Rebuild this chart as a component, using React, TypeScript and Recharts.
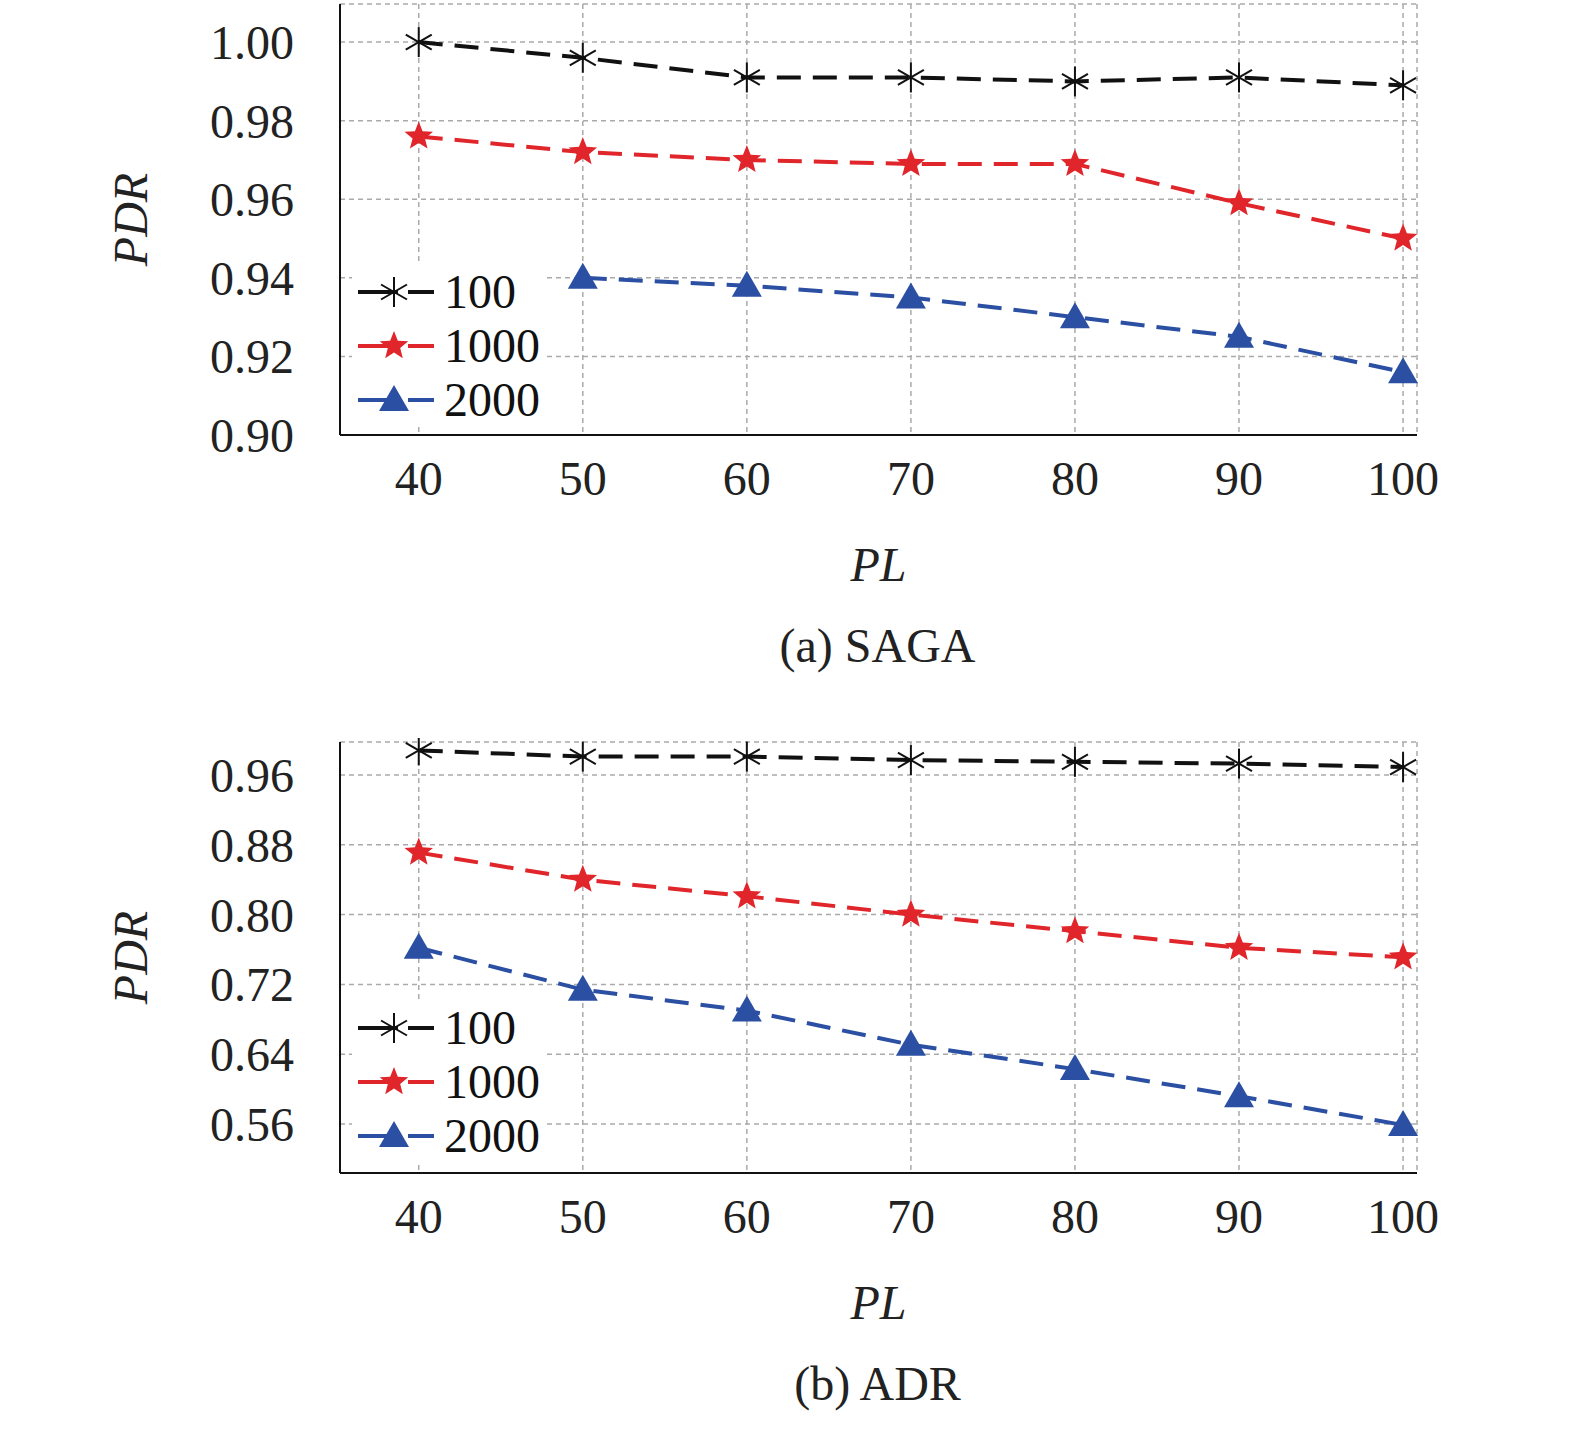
import { CartesianGrid, Label, Line, LineChart, XAxis, YAxis } from 'recharts';

const plValues = [40, 50, 60, 70, 80, 90, 100];
const seriesNames = ['100', '1000', '2000'];

const sagaPdr100 = [1.0, 0.996, 0.991, 0.991, 0.99, 0.991, 0.989];
const sagaPdr1000 = [0.976, 0.972, 0.97, 0.969, 0.969, 0.959, 0.95];
const sagaPdr2000 = [null, 0.94, 0.938, 0.935, 0.93, 0.925, 0.916];
const sagaTicks = [0.9, 0.92, 0.94, 0.96, 0.98, 1.0];

const adrPdr100 = [0.988, 0.981, 0.981, 0.977, 0.975, 0.973, 0.969];
const adrPdr1000 = [0.871, 0.84, 0.821, 0.8, 0.781, 0.762, 0.751];
const adrPdr2000 = [0.762, 0.714, 0.69, 0.651, 0.623, 0.592, 0.559];
const adrTicks = [0.56, 0.64, 0.72, 0.8, 0.88, 0.96];

const colors = ['#111111', '#e0262b', '#2b4fa2'];
const FONT = '"Liberation Serif", "Times New Roman", serif';

function Marker({ kind, cx, cy, color }: { kind: number; cx: number; cy: number; color: string }) {
  if (cx == null || cy == null || isNaN(cx) || isNaN(cy)) return null;
  if (kind === 0) {
    const r = 15;
    return (
      <g>
        {[0, 60, 120].map((a) => {
          const t = (a * Math.PI) / 180;
          return <line key={a} x1={cx - r * Math.sin(t)} y1={cy - r * Math.cos(t)} x2={cx + r * Math.sin(t)} y2={cy + r * Math.cos(t)} stroke={color} strokeWidth={2} />;
        })}
      </g>
    );
  }
  if (kind === 1) {
    const pts: string[] = [];
    for (let i = 0; i < 10; i++) {
      const rr = i % 2 === 0 ? 15 : 6.5;
      const t = (i * Math.PI) / 5;
      pts.push(`${cx + rr * Math.sin(t)},${cy - rr * Math.cos(t)}`);
    }
    return <polygon points={pts.join(' ')} fill={color} />;
  }
  return <polygon points={`${cx},${cy - 15} ${cx + 15},${cy + 11} ${cx - 15},${cy + 11}`} fill={color} />;
}

function LegendBox({ top }: { top: number }) {
  return (
    <div style={{ position: 'absolute', left: 352, top, background: 'white', padding: '0 6px 0 4px', fontFamily: FONT, fontSize: 48, lineHeight: '54px' }}>
      {seriesNames.map((n, i) => (
        <div key={n} style={{ display: 'flex', alignItems: 'center' }}>
          <svg width={80} height={40}>
            <line x1={2} y1={20} x2={78} y2={20} stroke={colors[i]} strokeWidth={4} strokeDasharray="40 10" />
            <Marker kind={i} cx={38} cy={20} color={colors[i]} />
          </svg>
          <span style={{ marginLeft: 8, color: '#111' }}>{n}</span>
        </div>
      ))}
    </div>
  );
}

function Panel({ top, s1, s2, s3, ticks, domain, caption, legendTop }: any) {
  const data = plValues.map((pl, i) => ({ pl, a: s1[i], b: s2[i], c: s3[i] }));
  const keys = ['a', 'b', 'c'];
  const tickStyle = { fontSize: 48, fill: '#222', fontFamily: FONT };
  return (
    <div style={{ position: 'absolute', top, left: 0, width: 1575, height: 700 }}>
      <LineChart width={1575} height={700} data={data} margin={{ top: 4, right: 158, left: 0, bottom: 0 }}>
        <CartesianGrid stroke="#aaaaaa" strokeDasharray="5 4" strokeWidth={1.5} />
        <XAxis dataKey="pl" type="number" domain={[35.2, 100.85]} ticks={plValues} height={265} tickLine={false} tickMargin={20}
          axisLine={{ stroke: '#111', strokeWidth: 2 }} tick={tickStyle}>
          <Label value="PL" position="insideTop" offset={112} style={{ ...tickStyle, fontStyle: 'italic' }} />
        </XAxis>
        <XAxis xAxisId="t" dataKey="pl" type="number" domain={[35.2, 100.85]} orientation="top" height={0} tick={false} tickLine={false} axisLine={{ stroke: '#111', strokeWidth: 2 }} />
        <YAxis type="number" domain={domain} ticks={ticks} width={340} tickLine={false} tickMargin={40} interval={0}
          tickFormatter={(v: number) => v.toFixed(2)} axisLine={{ stroke: '#111', strokeWidth: 2 }} tick={tickStyle}>
          <Label value="PDR" angle={-90} position="insideLeft" offset={130} style={{ ...tickStyle, fontStyle: 'italic', textAnchor: 'middle' }} />
        </YAxis>
        <YAxis yAxisId="r" orientation="right" domain={domain} width={0} tick={false} tickLine={false} axisLine={{ stroke: '#111', strokeWidth: 2 }} />
        {keys.map((k, i) => (
          <Line key={k} dataKey={k} type="linear" stroke={colors[i]} strokeWidth={4} strokeDasharray="24 12" isAnimationActive={false}
            dot={(p: any) => <Marker key={`${k}-${p.index}`} kind={i} cx={p.cx} cy={p.cy} color={colors[i]} />} activeDot={false} />
        ))}
      </LineChart>
      <LegendBox top={legendTop} />
      <div style={{ position: 'absolute', top: 618, left: 0, width: 1575, paddingLeft: 180, boxSizing: 'border-box', textAlign: 'center', fontFamily: FONT, fontSize: 48, color: '#222' }}>
        {caption}
      </div>
    </div>
  );
}

export default function App() {
  return (
    <div style={{ position: 'absolute', top: 0, left: 0, width: 1575, height: 1429, background: 'white' }}>
      <Panel top={0} s1={sagaPdr100} s2={sagaPdr1000} s3={sagaPdr2000} ticks={sagaTicks} domain={[0.9, 1.0097]} caption="(a) SAGA" legendTop={265} />
      <Panel top={738} s1={adrPdr100} s2={adrPdr1000} s3={adrPdr2000} ticks={adrTicks} domain={[0.504, 0.9977]} caption="(b) ADR" legendTop={263} />
    </div>
  );
}
